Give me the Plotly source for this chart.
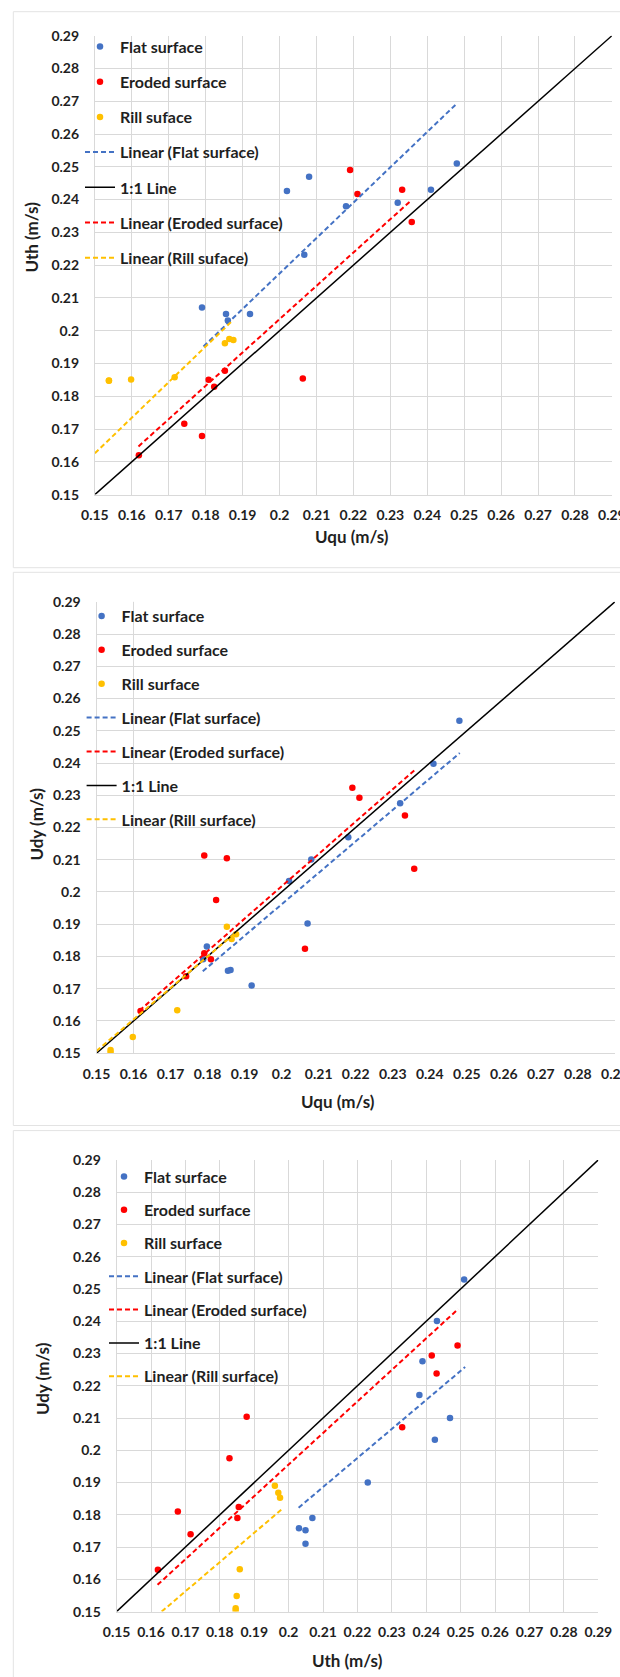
import plotly.graph_objects as go

W, H = 620, 1677
FONT = "Lato"
TEXT = "#1f1f1f"
BLUE, RED, GOLD, BLACK = "#4472C4", "#FF0000", "#FFC000", "#000000"
GRID = "#D9D9D9"

# ---------------- data ----------------
TICK_VALS = [0.15, 0.16, 0.17, 0.18, 0.19, 0.20, 0.21, 0.22, 0.23, 0.24, 0.25, 0.26, 0.27, 0.28, 0.29]
TICK_TEXT = ["0.15", "0.16", "0.17", "0.18", "0.19", "0.2", "0.21", "0.22", "0.23", "0.24",
             "0.25", "0.26", "0.27", "0.28", "0.29"]
ONE_TO_ONE = [0.15, 0.29]

# Panel 1: Uqu (x) vs Uth (y)
p1_flat_x = [0.202, 0.208, 0.218, 0.232, 0.241, 0.248, 0.2067, 0.179, 0.1855, 0.186, 0.192]
p1_flat_y = [0.2426, 0.247, 0.238, 0.239, 0.243, 0.251, 0.2232, 0.2071, 0.2051, 0.2031, 0.2051]
p1_eroded_x = [0.2191, 0.2211, 0.2332, 0.2358, 0.2063, 0.1852, 0.1808, 0.1823, 0.1742, 0.179, 0.1619]
p1_eroded_y = [0.249, 0.2417, 0.243, 0.2332, 0.1854, 0.1878, 0.185, 0.1829, 0.1716, 0.1679, 0.162]
p1_rill_x = [0.1538, 0.1538, 0.1598, 0.1716, 0.1852, 0.1864, 0.1875]
p1_rill_y = [0.1848, 0.1847, 0.1851, 0.1858, 0.1962, 0.1975, 0.1972]
p1_trend_flat_x, p1_trend_flat_y = [0.1794, 0.248], [0.1952, 0.2693]
p1_trend_eroded_x, p1_trend_eroded_y = [0.1618, 0.2354], [0.1647, 0.2395]
p1_trend_rill_x, p1_trend_rill_y = [0.15, 0.187], [0.1626, 0.2028]

# Panel 2: Uqu (x) vs Udy (y)
p2_flat_x = [0.248, 0.241, 0.232, 0.218, 0.208, 0.202, 0.207, 0.1798, 0.1788, 0.1855, 0.1862, 0.1919]
p2_flat_y = [0.2531, 0.2398, 0.2275, 0.2170, 0.2101, 0.2034, 0.1902, 0.1831, 0.1791, 0.1756, 0.1758, 0.1710]
p2_eroded_x = [0.2191, 0.2210, 0.2333, 0.2358, 0.2063, 0.1791, 0.1852, 0.1823, 0.1791, 0.1809, 0.1742, 0.1619]
p2_eroded_y = [0.2323, 0.2292, 0.2237, 0.2072, 0.1824, 0.2113, 0.2105, 0.1975, 0.1810, 0.1791, 0.1739, 0.1631]
p2_rill_x = [0.1852, 0.1865, 0.1877, 0.1718, 0.1598, 0.1538, 0.1538]
p2_rill_y = [0.1892, 0.1854, 0.1869, 0.1633, 0.1550, 0.1510, 0.1502]
p2_trend_flat_x, p2_trend_flat_y = [0.1787, 0.2481], [0.1754, 0.2431]
p2_trend_eroded_x, p2_trend_eroded_y = [0.1616, 0.2361], [0.1632, 0.2380]
p2_trend_rill_x, p2_trend_rill_y = [0.15, 0.1879], [0.1507, 0.1877]
p2_vline_x = 0.16

# Panel 3: Uth (x) vs Udy (y)
p3_flat_x = [0.251, 0.2431, 0.2389, 0.238, 0.2469, 0.2425, 0.223, 0.2069, 0.203, 0.2049, 0.2049]
p3_flat_y = [0.2529, 0.2401, 0.2276, 0.2171, 0.2100, 0.2033, 0.1900, 0.1790, 0.1758, 0.1752, 0.1710]
p3_eroded_x = [0.2491, 0.2416, 0.2430, 0.2330, 0.1878, 0.1828, 0.1855, 0.1851, 0.1678, 0.1715, 0.1620]
p3_eroded_y = [0.2325, 0.2294, 0.2238, 0.2071, 0.2104, 0.1975, 0.1824, 0.1790, 0.1810, 0.1740, 0.1630]
p3_rill_x = [0.1960, 0.1970, 0.1975, 0.1858, 0.1849, 0.1846, 0.1846]
p3_rill_y = [0.1890, 0.1868, 0.1853, 0.1631, 0.1548, 0.1510, 0.1503]
p3_trend_flat_x, p3_trend_flat_y = [0.2029, 0.2513], [0.1822, 0.2258]
p3_trend_eroded_x, p3_trend_eroded_y = [0.1619, 0.2493], [0.1583, 0.2438]
p3_trend_rill_x, p3_trend_rill_y = [0.1631, 0.1979], [0.1500, 0.1816]

# ---------------- layout geometry (pixels) ----------------
PANELS = [
    dict(x0=94.9, x1=611.9, yt=35.7, yb=494.6,
         xtitle="Uqu (m/s)", ytitle="Uth (m/s)", xt=(352, 536), yt_pos=(31, 237.5),
         frame=(13.3, 11.7, 640, 567.7), leg=(80, 29.6, 11.4)),
    dict(x0=96.5, x1=614.9, yt=601.8, yb=1053.2,
         xtitle="Uqu (m/s)", ytitle="Udy (m/s)", xt=(338, 1101), yt_pos=(35.6, 824),
         frame=(13.3, 572.3, 640, 1125.5), leg=(81.6, 599.0, 10.1)),
    dict(x0=116.6, x1=598.3, yt=1159.9, yb=1611.6,
         xtitle="Uth (m/s)", ytitle="Udy (m/s)", xt=(347, 1660), yt_pos=(42.7, 1378.4),
         frame=(13.3, 1130.6, 640, 1700), leg=(104, 1159.5, 9.5)),
]

fig = go.Figure()


def px_x(v):
    return v / W


def px_y(v):
    return 1 - v / H


def add_panel(k, flat, eroded, rill, tflat, teroded, trill, names, order):
    xa = "x" if k == 1 else f"x{k}"
    ya = "y" if k == 1 else f"y{k}"
    lg = "legend" if k == 1 else f"legend{k}"
    traces = {
        "flat": go.Scatter(x=flat[0], y=flat[1], mode="markers", name=names[0],
                           marker=dict(color=BLUE, size=6.5)),
        "eroded": go.Scatter(x=eroded[0], y=eroded[1], mode="markers", name=names[1],
                             marker=dict(color=RED, size=6.5)),
        "rill": go.Scatter(x=rill[0], y=rill[1], mode="markers", name=names[2],
                           marker=dict(color=GOLD, size=6.5)),
        "tflat": go.Scatter(x=tflat[0], y=tflat[1], mode="lines", name=f"Linear ({names[0]})",
                            line=dict(color=BLUE, width=2, dash="5px,3px")),
        "teroded": go.Scatter(x=teroded[0], y=teroded[1], mode="lines", name=f"Linear ({names[1]})",
                              line=dict(color=RED, width=2, dash="5px,3px")),
        "trill": go.Scatter(x=trill[0], y=trill[1], mode="lines", name=f"Linear ({names[2]})",
                            line=dict(color=GOLD, width=2, dash="5px,3px")),
        "one": go.Scatter(x=ONE_TO_ONE, y=ONE_TO_ONE, mode="lines", name="1:1 Line",
                          line=dict(color=BLACK, width=1.5)),
    }
    for key in order:
        t = traces[key]
        t.update(xaxis=xa, yaxis=ya, legend=lg, legendgroup=f"{k}-{key}",
                 hoverinfo="x+y+name")
        fig.add_trace(t)


add_panel(1, (p1_flat_x, p1_flat_y), (p1_eroded_x, p1_eroded_y), (p1_rill_x, p1_rill_y),
          (p1_trend_flat_x, p1_trend_flat_y), (p1_trend_eroded_x, p1_trend_eroded_y),
          (p1_trend_rill_x, p1_trend_rill_y),
          ["Flat surface", "Eroded surface", "Rill suface"],
          ["flat", "eroded", "rill", "tflat", "one", "teroded", "trill"])
add_panel(2, (p2_flat_x, p2_flat_y), (p2_eroded_x, p2_eroded_y), (p2_rill_x, p2_rill_y),
          (p2_trend_flat_x, p2_trend_flat_y), (p2_trend_eroded_x, p2_trend_eroded_y),
          (p2_trend_rill_x, p2_trend_rill_y),
          ["Flat surface", "Eroded surface", "Rill surface"],
          ["flat", "eroded", "rill", "tflat", "teroded", "one", "trill"])
add_panel(3, (p3_flat_x, p3_flat_y), (p3_eroded_x, p3_eroded_y), (p3_rill_x, p3_rill_y),
          (p3_trend_flat_x, p3_trend_flat_y), (p3_trend_eroded_x, p3_trend_eroded_y),
          (p3_trend_rill_x, p3_trend_rill_y),
          ["Flat surface", "Eroded surface", "Rill surface"],
          ["flat", "eroded", "rill", "tflat", "teroded", "one", "trill"])

tickfont = dict(family=FONT, size=14, color=TEXT, weight="bold")
titlefont = dict(family=FONT, size=17, color=TEXT, weight="bold")
legfont = dict(family=FONT, size=16, color=TEXT, weight="bold")

layout = dict(width=W, height=H, margin=dict(l=0, r=0, t=0, b=0, autoexpand=False),
              paper_bgcolor="white", plot_bgcolor="white", showlegend=True,
              hovermode="closest", template="none")
shapes, annotations = [], []
for k, P in enumerate(PANELS, start=1):
    sx = "" if k == 1 else str(k)
    xgrid = k != 2
    layout[f"xaxis{sx}"] = dict(
        domain=[px_x(P["x0"]), px_x(P["x1"])], anchor=f"y{sx}", range=[0.15, 0.29],
        tickmode="array", tickvals=TICK_VALS, ticktext=TICK_TEXT, tickfont=tickfont,
        showgrid=xgrid, gridcolor=GRID, gridwidth=1, zeroline=False, automargin=False,
        showline=True, linecolor=GRID, linewidth=1, ticks="", ticklabelstandoff=8,
        ticklabeloverflow="allow", fixedrange=True)
    layout[f"yaxis{sx}"] = dict(
        domain=[px_y(P["yb"]), px_y(P["yt"])], anchor=f"x{sx}", range=[0.15, 0.29],
        tickmode="array", tickvals=TICK_VALS, ticktext=TICK_TEXT, tickfont=tickfont,
        showgrid=True, gridcolor=GRID, gridwidth=1, zeroline=False, automargin=False,
        showline=True, linecolor=GRID, linewidth=1, ticks="", ticklabelstandoff=12,
        ticklabeloverflow="allow", fixedrange=True)
    lx, ltop, lgap = P["leg"]
    layout["legend" if k == 1 else f"legend{k}"] = dict(
        x=px_x(lx), y=px_y(ltop), xanchor="left", yanchor="top",
        bgcolor="rgba(0,0,0,0)", borderwidth=0, font=legfont, tracegroupgap=lgap,
        traceorder="grouped", itemwidth=30)
    fx0, fy0, fx1, fy1 = P["frame"]
    shapes.append(dict(type="rect", xref="paper", yref="paper",
                       x0=px_x(fx0), x1=px_x(fx1), y0=px_y(fy1), y1=px_y(fy0),
                       line=dict(color="#E3E3E3", width=1), layer="below"))
    annotations.append(dict(text=P["xtitle"], xref="paper", yref="paper",
                            x=px_x(P["xt"][0]), y=px_y(P["xt"][1]),
                            xanchor="center", yanchor="middle", showarrow=False, font=titlefont))
    annotations.append(dict(text=P["ytitle"], xref="paper", yref="paper",
                            x=px_x(P["yt_pos"][0]), y=px_y(P["yt_pos"][1]), textangle=-90,
                            xanchor="center", yanchor="middle", showarrow=False, font=titlefont))

# single vertical gridline visible in panel 2
shapes.append(dict(type="line", xref="x2", yref="y2 domain", x0=p2_vline_x, x1=p2_vline_x,
                   y0=0, y1=1, line=dict(color=GRID, width=1), layer="below"))

layout["shapes"] = shapes
layout["annotations"] = annotations
fig.update_layout(**layout)
fig.write_html("out.html", config={"displayModeBar": False},
               post_script="document.body.style.margin='0';document.body.style.overflow='hidden';")
